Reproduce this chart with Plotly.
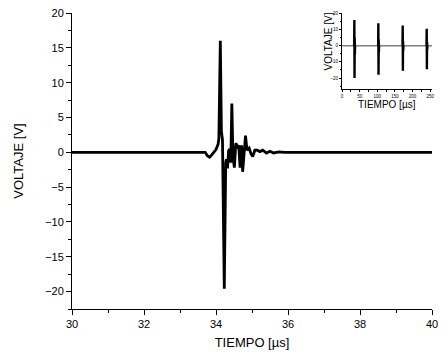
import plotly.graph_objects as go

# Main waveform (time in µs, voltage in V)
main_t = [30.0, 33.70, 33.76, 33.82, 33.86, 33.90, 33.95, 34.00, 34.06, 34.08,
          34.12, 34.15, 34.18, 34.23, 34.27, 34.29, 34.32, 34.35, 34.38, 34.41,
          34.44, 34.47, 34.51, 34.55, 34.60, 34.63, 34.67, 34.71, 34.74, 34.78,
          34.82, 34.86, 34.92, 34.97, 35.02, 35.08, 35.14, 35.22, 35.30, 35.40,
          35.50, 35.60, 35.75, 35.90, 36.10, 40.0]
main_v = [0.0, 0.0, -0.5, -0.7, -0.5, -0.2, 0.2, 0.4, 1.2, 2.0,
          16.0, 3.0, 1.8, -19.6, -1.5, -1.0, -2.3, 0.2, 0.5, -1.5,
          7.0, -0.5, -2.2, 1.3, 0.8, 1.0, -2.2, 1.0, -2.8, -0.6,
          2.4, 0.3, 0.6, -0.2, -0.6, 0.3, 0.3, 0.1, 0.3, -0.1,
          0.15, -0.1, 0.05, 0.0, 0.0, 0.0]

# Inset: full record with four bursts
inset_span = [0, 255]
burst_t = [35, 103, 172, 240]
burst_max = [16.0, 14.0, 12.5, 10.5]
burst_min = [-20.0, -18.0, -15.5, -14.5]
burst_ring = [5.0, 4.0, 3.0, 2.5]

main_xticks = [30, 32, 34, 36, 38, 40]
main_yticks = [20, 15, 10, 5, 0, -5, -10, -15, -20]
inset_xticks = [0, 50, 100, 150, 200, 250]
inset_yticks = [20, 10, 0, -10, -20]

bx, by = [], []
for t, mx, mn, r in zip(burst_t, burst_max, burst_min, burst_ring):
    bx += [t - 0.6, t, t + 0.5, t + 1.0, t + 1.5, t + 2.0, None]
    by += [0, mx, mn, r, -r, 0, None]

FONT = "Liberation Sans, Arial, sans-serif"

fig = go.Figure()
fig.add_trace(go.Scatter(x=main_t, y=main_v, mode="lines",
                         line=dict(color="black", width=2.8), showlegend=False))
fig.add_trace(go.Scatter(x=inset_span, y=[0, 0], mode="lines", xaxis="x2", yaxis="y2",
                         line=dict(color="#808080", width=1.6), showlegend=False))
fig.add_trace(go.Scatter(x=bx, y=by, mode="lines", xaxis="x2", yaxis="y2",
                         line=dict(color="black", width=2.4), showlegend=False,
                         connectgaps=False))

axis_common = dict(showgrid=False, zeroline=False, showline=True, linecolor="black",
                   linewidth=1, ticks="outside", tickcolor="black", mirror=False)

fig.update_layout(
    width=445, height=359,
    margin=dict(l=72, r=7, t=13, b=50),
    paper_bgcolor="white", plot_bgcolor="white",
    font=dict(family=FONT, color="black"),
    xaxis=dict(**axis_common, range=[30, 40], tickvals=main_xticks,
               ticklen=5, tickwidth=1,
               minor=dict(dtick=1, tick0=30, ticks="outside", ticklen=3, tickcolor="black"),
               tickfont=dict(size=11),
               title=dict(text="TIEMPO [µs]", font=dict(size=13), standoff=8)),
    yaxis=dict(**axis_common, range=[-22.5, 20], tickvals=main_yticks,
               ticklen=5, tickwidth=1,
               minor=dict(dtick=2.5, tick0=0, ticks="outside", ticklen=3, tickcolor="black"),
               tickfont=dict(size=11),
               title=dict(text="VOLTAJE [V]", font=dict(size=13), standoff=18)),
    xaxis2=dict(**axis_common, domain=[0.75, 1.0], anchor="y2", range=[0, 255],
                tickvals=inset_xticks, ticklen=2, tickwidth=0.8,
                minor=dict(dtick=25, tick0=0, ticks="outside", ticklen=1.5, tickcolor="black"),
                tickfont=dict(size=4.5)),
    yaxis2=dict(**axis_common, domain=[0.742, 1.0], anchor="x2", range=[-27, 20.3],
                tickvals=inset_yticks, ticklen=2, tickwidth=0.8,
                minor=dict(dtick=5, tick0=0, ticks="outside", ticklen=1.5, tickcolor="black"),
                tickfont=dict(size=4.5)),
    annotations=[
        dict(text="TIEMPO [µs]", xref="x2 domain", yref="y2 domain", x=0.5, y=-0.11,
             yanchor="top", xanchor="center", showarrow=False, font=dict(size=10),
             borderpad=0),
        dict(text="VOLTAJE [V]", xref="x2 domain", yref="y2 domain", x=-0.15, y=0.62,
             xanchor="center", yanchor="middle", textangle=-90, showarrow=False,
             font=dict(size=10), borderpad=0),
    ],
)

fig.write_html("out.html", config={"displayModeBar": False},
               post_script="document.body.style.margin='0';document.body.style.overflow='hidden';")
